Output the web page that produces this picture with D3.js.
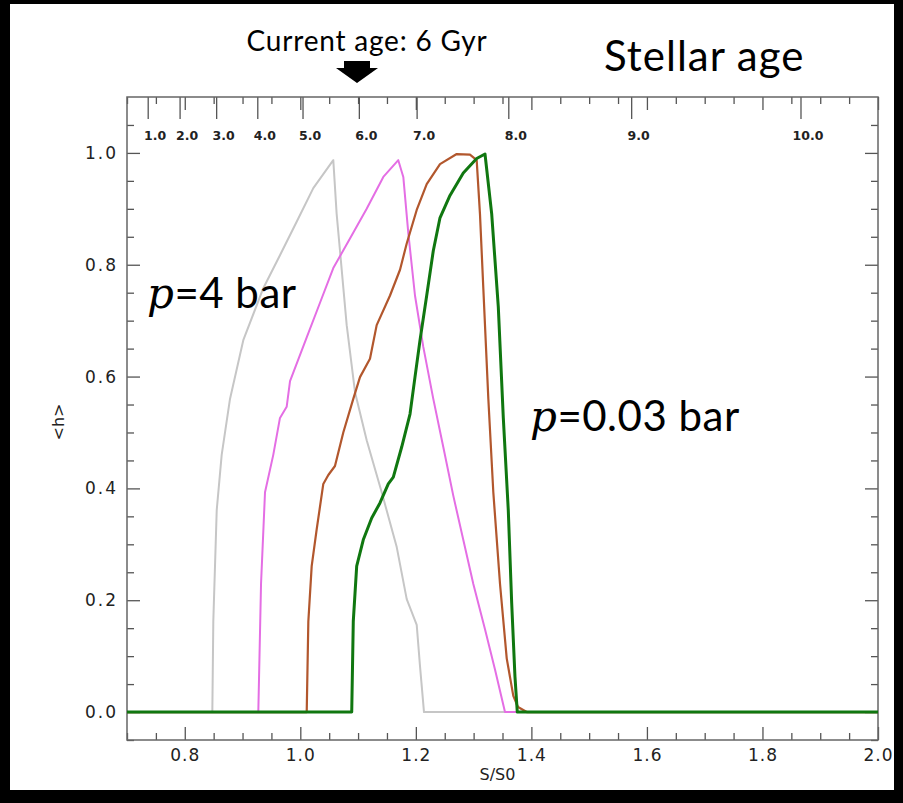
<!DOCTYPE html>
<html>
<head>
<meta charset="utf-8">
<script src="https://cdn.jsdelivr.net/npm/d3@7"></script>
<style>
  html, body { margin: 0; padding: 0; background: #000; }
  svg { display: block; }
</style>
</head>
<body>
<svg id="chart" width="903" height="803"></svg>
<script>
// Mean h profiles versus S/S0 for four pressures, p = 4 bar ... p = 0.03 bar
const greyCurve = [
  [0.70, 0], [0.8477, 0], [0.8494, 0.162], [0.8553, 0.361], [0.8639, 0.460], [0.8783, 0.560],
  [0.9013, 0.665], [0.9359, 0.758], [0.9648, 0.817], [0.9937, 0.877], [1.0225, 0.937],
  [1.0571, 0.987], [1.0629, 0.891], [1.0687, 0.825], [1.0803, 0.692], [1.0947, 0.572],
  [1.1149, 0.486], [1.1409, 0.393], [1.1669, 0.295], [1.1842, 0.202], [1.2015, 0.156],
  [1.2072, 0.082], [1.2141, 0], [2.0, 0]
];
const violetCurve = [
  [0.70, 0], [0.9273, 0], [0.9320, 0.229], [0.9389, 0.393], [0.9532, 0.460], [0.9648, 0.526],
  [0.9764, 0.546], [0.9822, 0.592], [1.0111, 0.670], [1.0341, 0.732], [1.0571, 0.794],
  [1.0860, 0.847], [1.1149, 0.900], [1.1437, 0.957], [1.1696, 0.987], [1.1783, 0.957],
  [1.1869, 0.857], [1.1985, 0.745], [1.2129, 0.653], [1.2302, 0.560], [1.2475, 0.474],
  [1.2648, 0.387], [1.2821, 0.308], [1.2995, 0.229], [1.3197, 0.148], [1.3370, 0.076],
  [1.3543, 0], [2.0, 0]
];
const brownCurve = [
  [0.70, 0], [1.0111, 0], [1.0139, 0.162], [1.0197, 0.261], [1.0284, 0.327], [1.0398, 0.408],
  [1.0485, 0.424], [1.0600, 0.440], [1.0744, 0.500], [1.0917, 0.560], [1.1033, 0.599],
  [1.1206, 0.632], [1.1322, 0.692], [1.1553, 0.745], [1.1726, 0.791], [1.1842, 0.838],
  [1.2015, 0.898], [1.2188, 0.944], [1.2418, 0.980], [1.2707, 0.998], [1.2937, 0.997],
  [1.3053, 0.987], [1.3110, 0.891], [1.3168, 0.758], [1.3255, 0.560], [1.3341, 0.393],
  [1.3457, 0.229], [1.3573, 0.096], [1.3687, 0.029], [1.3768, 0.009], [1.3919, 0],
  [2.0, 0]
];
const greenCurve = [
  [0.70, 0], [1.0890, 0], [1.0917, 0.162], [1.0976, 0.261], [1.1090, 0.308], [1.1236, 0.347],
  [1.1379, 0.374], [1.1523, 0.408], [1.1610, 0.420], [1.1755, 0.474], [1.1899, 0.533],
  [1.1985, 0.599], [1.2072, 0.665], [1.2188, 0.745], [1.2302, 0.825], [1.2418, 0.884],
  [1.2591, 0.924], [1.2821, 0.964], [1.3053, 0.990], [1.3197, 0.998], [1.3313, 0.891],
  [1.3427, 0.725], [1.3514, 0.526], [1.3600, 0.361], [1.3659, 0.195], [1.3716, 0.063],
  [1.3756, 0], [2.0, 0]
];

// Stellar age (Gyr) marks on the upper axis and where they fall in S/S0
const ageLabels = ["1.0", "2.0", "3.0", "4.0", "5.0", "6.0", "7.0", "8.0", "9.0", "10.0"];
const agePositions = [0.7367, 0.7919, 0.8552, 0.9264, 1.0047, 1.1022, 1.2022, 1.3609, 1.5736, 1.8667];

const xMajorTicks = [0.8, 1.0, 1.2, 1.4, 1.6, 1.8, 2.0];
const yMajorTicks = [0.0, 0.2, 0.4, 0.6, 0.8, 1.0];

const svg = d3.select("#chart");

// white panel inside the black surround
svg.append("rect").attr("x", 10).attr("y", 4).attr("width", 884).attr("height", 786).attr("fill", "#fff");

const plotLeft = 127, plotRight = 878, plotTop = 97, plotBottom = 740;
const x = d3.scaleLinear().domain([0.7, 2.0]).range([plotLeft, plotRight]);
const y = d3.scaleLinear().domain([-0.05, 1.1]).range([plotBottom, plotTop]);

const xMinor = d3.range(0, 27).map(i => +(0.7 + i * 0.05).toFixed(2)).filter(v => !xMajorTicks.some(m => Math.abs(m - v) < 1e-6));
const yMinor = d3.range(0, 23).map(i => +(-0.05 + i * 0.05).toFixed(2)).filter(v => !yMajorTicks.some(m => Math.abs(m - v) < 1e-6));

const axisColor = "#555";
const labelFont = "'DejaVu Sans', sans-serif";

function styleAxis(spacing) {
  return g => {
    g.select(".domain").remove();
    g.selectAll(".tick line").attr("stroke", axisColor).attr("stroke-width", 1.3);
    g.selectAll(".tick text").attr("fill", "#222").style("font-family", labelFont)
      .style("font-size", "17px").style("letter-spacing", spacing + "px");
  };
}

// bottom axis, ticks pointing into the plot
svg.append("g").attr("transform", `translate(0,${plotBottom})`)
  .call(d3.axisBottom(x).tickValues(xMajorTicks).tickFormat(d3.format(".1f")).tickSizeInner(-13).tickSizeOuter(0).tickPadding(9))
  .call(styleAxis(1));
svg.append("g").attr("transform", `translate(0,${plotBottom})`)
  .call(d3.axisBottom(x).tickValues(xMinor).tickFormat("").tickSizeInner(-7).tickSizeOuter(0))
  .call(styleAxis(0));

// top axis: mirrored S/S0 ticks, no labels
svg.append("g").attr("transform", `translate(0,${plotTop})`)
  .call(d3.axisTop(x).tickValues(xMajorTicks).tickFormat("").tickSizeInner(-13).tickSizeOuter(0))
  .call(styleAxis(0));
svg.append("g").attr("transform", `translate(0,${plotTop})`)
  .call(d3.axisTop(x).tickValues(xMinor).tickFormat("").tickSizeInner(-7).tickSizeOuter(0))
  .call(styleAxis(0));

// left axis
svg.append("g").attr("transform", `translate(${plotLeft},0)`)
  .call(d3.axisLeft(y).tickValues(yMajorTicks).tickFormat(d3.format(".1f")).tickSizeInner(-13).tickSizeOuter(0).tickPadding(9))
  .call(styleAxis(2));
svg.append("g").attr("transform", `translate(${plotLeft},0)`)
  .call(d3.axisLeft(y).tickValues(yMinor).tickFormat("").tickSizeInner(-7).tickSizeOuter(0))
  .call(styleAxis(0));

// right axis, mirrored
svg.append("g").attr("transform", `translate(${plotRight},0)`)
  .call(d3.axisRight(y).tickValues(yMajorTicks).tickFormat("").tickSizeInner(-13).tickSizeOuter(0))
  .call(styleAxis(0));
svg.append("g").attr("transform", `translate(${plotRight},0)`)
  .call(d3.axisRight(y).tickValues(yMinor).tickFormat("").tickSizeInner(-7).tickSizeOuter(0))
  .call(styleAxis(0));

// stellar age ticks along the top
const ageG = svg.append("g");
ageG.selectAll("line").data(agePositions).join("line")
  .attr("x1", d => x(d)).attr("x2", d => x(d))
  .attr("y1", plotTop).attr("y2", plotTop + 22)
  .attr("stroke", axisColor).attr("stroke-width", 1.3);
ageG.selectAll("text").data(agePositions).join("text")
  .attr("x", d => x(d) + 7).attr("y", plotTop + 43)
  .attr("text-anchor", "middle")
  .style("font-family", labelFont).style("font-size", "12.5px").style("font-weight", "bold")
  .attr("fill", "#222")
  .text((d, i) => ageLabels[i]);

// frame
svg.append("rect").attr("x", plotLeft).attr("y", plotTop).attr("width", plotRight - plotLeft).attr("height", plotBottom - plotTop)
  .attr("fill", "none").attr("stroke", "#666").attr("stroke-width", 1.5);

// curves
const line = d3.line().x(d => x(d[0])).y(d => y(d[1]));
const curves = [
  { data: greyCurve, color: "#c6c6c6", width: 2 },
  { data: violetCurve, color: "#e46ee4", width: 2 },
  { data: brownCurve, color: "#b2572d", width: 2.2 },
  { data: greenCurve, color: "#107710", width: 3 }
];
svg.append("g").selectAll("path").data(curves).join("path")
  .attr("d", d => line(d.data))
  .attr("fill", "none")
  .attr("stroke", d => d.color)
  .attr("stroke-width", d => d.width)
  .attr("stroke-linejoin", "round");

// axis titles
svg.append("text").attr("x", (plotLeft + plotRight) / 2 - 5).attr("y", 780)
  .attr("text-anchor", "middle").style("font-family", labelFont).style("font-size", "16px")
  .attr("fill", "#222").text("S/S0");
svg.append("text").attr("transform", "translate(64,422) rotate(-90)")
  .attr("text-anchor", "middle").style("font-family", labelFont).style("font-size", "16px")
  .attr("fill", "#222").text("<h>");

// annotations
const annoFont = "Lato, 'Open Sans', sans-serif";
svg.append("text").attr("x", 367).attr("y", 51).attr("text-anchor", "middle")
  .style("font-family", annoFont).style("font-size", "28px").style("letter-spacing", "0.8px").attr("fill", "#000")
  .text("Current age: 6 Gyr");
svg.append("path")
  .attr("d", d3.line()([[344, 61], [370, 61], [370, 68], [378, 68], [357, 83], [336, 68], [344, 68]]) + "Z")
  .attr("fill", "#000");
svg.append("text").attr("x", 604).attr("y", 71)
  .style("font-family", annoFont).style("font-size", "42px").style("letter-spacing", "1px").attr("fill", "#000")
  .text("Stellar age");

function pLabel(px, py, rest) {
  const t = svg.append("text").attr("x", px).attr("y", py).attr("fill", "#000")
    .style("font-family", annoFont).style("font-size", "42px").style("letter-spacing", "0.5px");
  t.append("tspan").style("font-family", "'DejaVu Serif', serif").style("font-style", "italic").text("p");
  t.append("tspan").text(rest);
}
pLabel(147, 308, "=4 bar");
pLabel(530, 431, "=0.03 bar");
</script>
</body>
</html>
